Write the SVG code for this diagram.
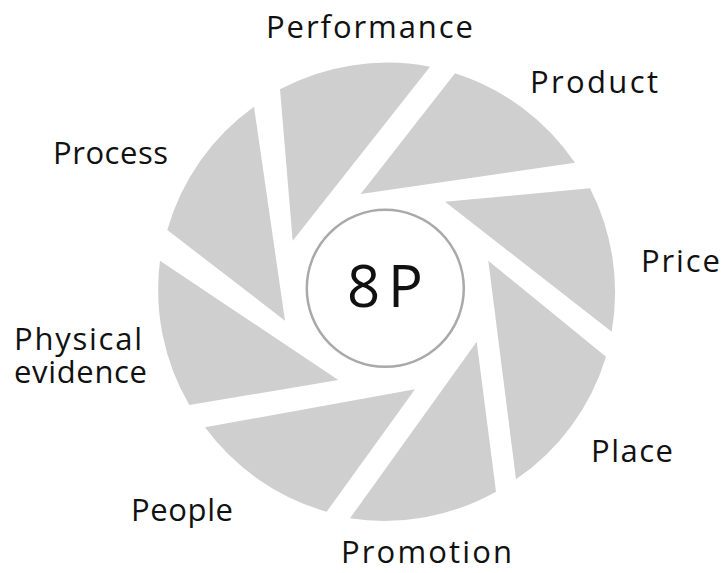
<svg xmlns="http://www.w3.org/2000/svg" width="725" height="573" viewBox="0 0 725 573">
  <style>
    .blade { fill: #d0cfd0; stroke: none; }
    .label { font-family: "Open Sans", "DejaVu Sans", sans-serif; font-size: 31px; fill: #111111; }
    .hub { fill: #ffffff; stroke: #a9a9a9; stroke-width: 2.5; }
    .hub-text { font-family: "Open Sans", "DejaVu Sans", sans-serif; font-size: 58px; fill: #111111; }
  </style>
  <rect width="725" height="573" fill="#ffffff"/>

  <!-- Aperture blades: arc on the outer rim (r = 228.5), then straight edge to the inner tip -->
  <g id="performance">
    <path class="blade" d="M280,89.3 A228.5,228.5 0 0 1 430,66.7 L292.7,240.7 Z"/>
    <text class="label" x="266" y="38" textLength="207">Performance</text>
  </g>
  <g id="product">
    <path class="blade" d="M455,73.3 A228.5,228.5 0 0 1 575,162.7 L360.7,194 Z"/>
    <text class="label" x="530" y="93" textLength="128">Product</text>
  </g>
  <g id="price">
    <path class="blade" d="M590,188.3 A228.5,228.5 0 0 1 611.7,331.7 L445,201.7 Z"/>
    <text class="label" x="641" y="272" textLength="79">Price</text>
  </g>
  <g id="place">
    <path class="blade" d="M606,356.7 A228.5,228.5 0 0 1 516,479.3 L488.3,260.7 Z"/>
    <text class="label" x="591" y="462" textLength="82">Place</text>
  </g>
  <g id="promotion">
    <path class="blade" d="M496,491.7 A228.5,228.5 0 0 1 350,518.3 L476.7,341.7 Z"/>
    <text class="label" x="341" y="563" textLength="171">Promotion</text>
  </g>
  <g id="people">
    <path class="blade" d="M326.7,511.7 A228.5,228.5 0 0 1 205,427.3 L415,389.3 Z"/>
    <text class="label" x="131" y="521" textLength="102">People</text>
  </g>
  <g id="physical-evidence">
    <path class="blade" d="M189.3,405 A228.5,228.5 0 0 1 160,260.7 L338.3,380 Z"/>
    <!-- two-line label kept in one text element -->
    <text class="label">
      <tspan x="14" y="350" textLength="128">Physical</tspan>
      <tspan x="14" y="383" textLength="133">evidence</tspan>
    </text>
  </g>
  <g id="process">
    <path class="blade" d="M167.3,230 A228.5,228.5 0 0 1 254,106.7 L285,320.7 Z"/>
    <text class="label" x="53" y="164" textLength="115">Process</text>
  </g>

  <!-- Central hub -->
  <g id="hub-8p">
    <circle class="hub" cx="385.3" cy="288.3" r="78.5"/>
    <text class="hub-text" x="385" y="307" text-anchor="middle" textLength="76">8P</text>
  </g>

  <!-- No connecting lines in this figure -->
  <g id="connectors"/>
</svg>
